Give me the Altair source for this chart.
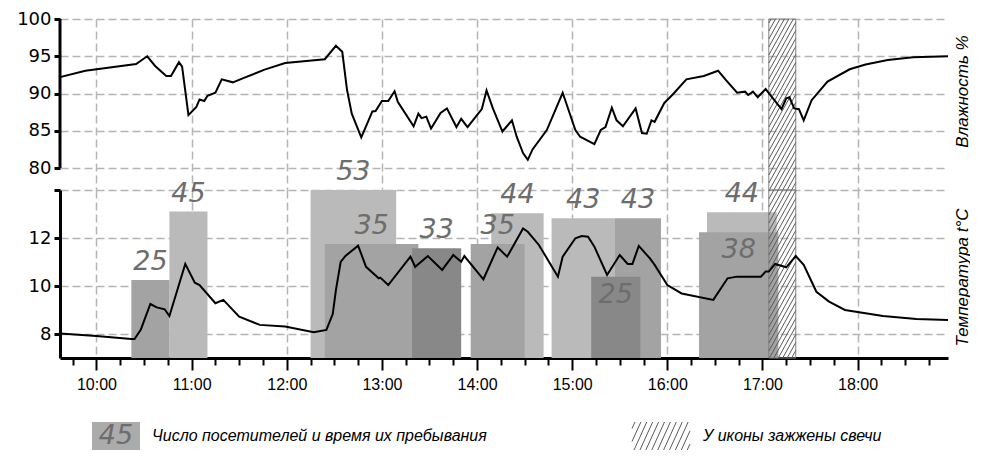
import altair as alt
import pandas as pd

# ---------------- data ----------------
hum_times = ["9:37","9:53","10:25","10:32","10:37","10:44","10:47","10:52","10:54","10:58",
             "11:03","11:05","11:08","11:10","11:15","11:19","11:26","11:33","11:46","11:59",
             "12:24","12:31","12:35","12:38","12:41","12:47","12:54","12:56","13:00","13:04",
             "13:08","13:10","13:20","13:23","13:25","13:28","13:31","13:37","13:41","13:47",
             "13:50","13:54","14:03","14:06","14:10","14:16","14:22","14:25","14:29","14:32",
             "14:35","14:44","14:54","15:02","15:05","15:14","15:18","15:21","15:25","15:28",
             "15:32","15:40","15:44","15:47","15:50","15:52","15:58","16:04","16:12","16:23",
             "16:32","16:37","16:44","16:49","16:51","16:54","16:57","17:02","17:06","17:12",
             "17:15","17:17","17:20","17:23","17:26","17:31","17:41","17:55","18:05","18:19",
             "18:35","18:57"]
hum_values = [92.2,93.06,93.96,95.0,93.7,92.35,92.35,94.2,93.6,87.1,
              88.2,89.2,89.0,89.7,90.1,91.9,91.5,92.1,93.2,94.1,
              94.6,96.4,95.6,90.5,87.3,84.1,87.6,87.65,89.0,89.0,
              90.3,88.9,85.6,87.3,86.7,86.9,85.3,87.4,88.0,85.5,
              86.6,85.5,87.9,90.4,88.0,84.9,86.4,84.2,82.0,81.1,
              82.5,85.1,90.1,85.1,84.2,83.2,85.1,85.5,88.1,86.4,
              85.6,88.0,84.7,84.6,86.4,86.2,88.7,90.0,91.9,92.35,
              93.06,91.8,90.1,90.25,89.8,90.25,89.5,90.6,89.5,87.9,
              89.35,89.5,88.0,87.9,86.4,89.1,91.6,93.25,93.9,94.5,
              94.85,95.0]

temp_times = ["9:37","10:00","10:22","10:24","10:28","10:34","10:38","10:43","10:46","10:51",
              "10:56","11:02","11:05","11:15","11:20","11:30","11:43","11:59","12:17","12:25",
              "12:29","12:31","12:34","12:37","12:45","12:50","12:58","12:59","13:04","13:18",
              "13:21","13:29","13:38","13:45","13:50","13:52","14:04","14:13","14:19","14:29",
              "14:32","14:39","14:51","14:54","15:02","15:06","15:10","15:14","15:22","15:30",
              "15:35","15:38","15:42","15:49","15:52","16:00","16:09","16:29","16:38","16:44",
              "16:59","17:02","17:04","17:08","17:15","17:21","17:26","17:34","17:42","17:52",
              "18:16","18:37","18:57"]
temp_values = [8.02,7.92,7.79,7.79,8.19,9.25,9.11,9.03,8.75,9.83,
               10.92,10.14,10.04,9.28,9.42,8.72,8.38,8.31,8.07,8.17,
               8.83,9.83,11.0,11.25,11.68,10.8,10.32,10.35,10.04,11.22,
               10.8,11.25,10.67,11.29,11.01,11.25,10.28,11.61,11.22,12.4,
               12.26,11.71,10.39,11.22,11.99,12.08,12.05,11.64,10.46,11.29,
               10.92,10.92,11.67,11.15,10.88,10.04,9.69,9.42,10.32,10.39,
               10.39,10.6,10.6,10.92,10.78,11.25,10.88,9.76,9.35,9.0,
               8.75,8.63,8.58]

visit_counts = [25, 45, 53, 35, 33, 35, 44, 43, 25, 43, 44, 38]
visit_start = ["10:22","10:46","12:15","12:24","13:19","13:56","14:09","14:47","15:12","15:27","16:25","16:20"]
visit_end   = ["10:46","11:10","13:09","13:23","13:50","14:30","14:42","15:27","15:43","15:56","17:09","17:10"]
visit_top   = [10.25, 13.1, 14.0, 11.75, 11.57, 11.75, 13.03, 12.82, 10.39, 12.82, 13.07, 12.24]
visit_shade = ["medium","light","light","medium","dark","medium","light","light","dark","medium","light","medium"]
label_inside = [False, False, False, False, False, False, False, False, True, False, False, True]

candle_start = "17:04"
candle_end = "17:21"

time_range = ["9:37", "18:57"]
hum_ticks = [80, 85, 90, 95, 100]
temp_ticks = [8, 10, 12, 14]
hour_ticks = [10, 11, 12, 13, 14, 15, 16, 17, 18]

legend_sample = "45"
legend_labels = ["Число посетителей и время их пребывания", "У иконы зажжены свечи"]
title_hum = "Влажность %"
title_temp = "Температура  t°C"

shade_names = ["light", "medium", "dark"]
shade_colors = ["#bababa", "#a3a3a3", "#888888"]


def hrs(t):
    a, b = t.split(":")
    return int(a) + int(b) / 60.0


# ---------------- layout constants ----------------
W = 888
HT = 171          # humidity panel incl. gap below 80
HB = 168          # temperature panel
LGAP = 64         # space between the x axis line and the legend row
LH = 28
hum_domain = [77.05, 100]
temp_domain = [7, 14]
x_lo, x_hi = hrs(time_range[0]), hrs(time_range[1])
pph = W / (x_hi - x_lo)

GRID = dict(grid=True, gridColor="#b5b5b5", gridDash=[8, 4], gridWidth=1.5)
LBL = dict(labelFont="DejaVu Sans", labelFontSize=18, labelColor="black")
TTL = dict(titleFont="Liberation Sans", titleFontStyle="italic", titleFontWeight="normal",
           titleFontSize=17, titleColor="black", titleAngle=270, titleAlign="center",
           titleBaseline="middle")

x_scale = alt.Scale(domain=[x_lo, x_hi], nice=False, zero=False)
x_axis_top = alt.Axis(values=hour_ticks, labels=False, ticks=False, domain=False, title=None, **GRID)
y_scale_top = alt.Scale(domain=hum_domain, nice=False, zero=False)
y_axis_top = alt.Axis(values=hum_ticks, domain=False, tickSize=6, tickWidth=3, tickColor="black",
                      labelPadding=3, title=title_hum, titleX=W + 14, titleY=72, **LBL, **GRID, **TTL)

quarter_ticks = [i / 4 for i in range(int(x_lo * 4) + 1, int(x_hi * 4) + 1)]
is_hour = "abs(datum.value - round(datum.value)) < 0.001"
x_axis_bot = alt.Axis(values=quarter_ticks, title=None, labelOverlap=False,
                      labelExpr=f"{is_hour} ? format(round(datum.value), 'd') + ':00' : ''",
                      tickSize={"condition": {"test": is_hour, "value": 12}, "value": 7},
                      tickWidth=2, tickColor="black", domainColor="black", domainWidth=3,
                      labelFont="Liberation Sans", labelFontSize=16, labelColor="black", labelPadding=6,
                      grid=True, gridColor="#b5b5b5", gridDash=[8, 4], gridWidth=1.5,
                      gridOpacity={"condition": {"test": is_hour, "value": 1}, "value": 0})
y_scale_bot = alt.Scale(domain=temp_domain, nice=False, zero=False)
y_axis_bot = alt.Axis(values=temp_ticks, labelExpr="datum.value == 14 ? '' : datum.label",
                      domainColor="black", domainWidth=3, tickSize=6, tickWidth=3, tickColor="black",
                      labelPadding=3, title=title_temp, titleX=W + 14, titleY=87, **LBL, **GRID, **TTL)

# ---------------- tables ----------------
df_hum = pd.DataFrame({"h": [hrs(t) for t in hum_times], "hum": hum_values})
df_temp = pd.DataFrame({"h": [hrs(t) for t in temp_times], "temp": temp_values})
df_vis = pd.DataFrame({
    "start": [hrs(t) for t in visit_start],
    "end": [hrs(t) for t in visit_end],
    "top": visit_top,
    "shade": visit_shade,
    "count": [str(c) for c in visit_counts],
    "inside": label_inside,
})
df_vis["mid"] = (df_vis["start"] + df_vis["end"]) / 2
df_vis["rank"] = df_vis["shade"].map({n: i for i, n in enumerate(shade_names)})
df_vis = df_vis.sort_values("rank", kind="stable")
df_candle = pd.DataFrame({"start": [hrs(candle_start)], "end": [hrs(candle_end)]})


def hatch(x0, x1, y0, y1, slope=1.8, step=8.0, anchor=0.0):
    """diagonal segments (pixel space, y down) clipped to a box, rising to the right"""
    w = x1 - x0
    out = []
    k = 0
    while True:
        c = anchor + step / 2 + k * step
        if c > y1 + slope * w:
            break
        xa = max(x0, x0 + (c - y1) / slope)
        xb = min(x1, x0 + (c - y0) / slope)
        if xb > xa:
            out.append((xa, c - slope * (xa - x0), xb, c - slope * (xb - x0)))
        k += 1
    return out


cx0 = (hrs(candle_start) - x_lo) * pph
cx1 = (hrs(candle_end) - x_lo) * pph
seg_top = hatch(cx0, cx1, 0, HT)
seg_bot = hatch(cx0, cx1, HT, HT + HB)
to_h = lambda px: x_lo + px / pph
to_hum = lambda py: hum_domain[1] - py * (hum_domain[1] - hum_domain[0]) / HT
to_t = lambda py: temp_domain[1] - (py - HT) * (temp_domain[1] - temp_domain[0]) / HB
df_ht = pd.DataFrame([{"xa": to_h(a), "ya": to_hum(b), "xb": to_h(c), "yb": to_hum(d)} for a, b, c, d in seg_top])
df_hb = pd.DataFrame([{"xa": to_h(a), "ya": to_t(b), "xb": to_h(c), "yb": to_t(d)} for a, b, c, d in seg_bot])

# ---------------- top panel (humidity) ----------------
Xt = lambda f: alt.X(f, scale=x_scale, axis=x_axis_top)
Yt = lambda f: alt.Y(f, scale=y_scale_top, axis=y_axis_top)

top_rect = alt.Chart(df_candle).mark_rect(fillOpacity=0, stroke="#808080", strokeWidth=1).encode(
    x=Xt("start:Q"), x2="end:Q", y=alt.value(0), y2=alt.value(HT))
top_hatch = alt.Chart(df_ht).mark_rule(color="#5a5a5a", strokeWidth=1).encode(
    x=Xt("xa:Q"), x2="xb:Q", y=Yt("ya:Q"), y2="yb:Q")
top_line = alt.Chart(df_hum).mark_line(color="black", strokeWidth=2).encode(x=Xt("h:Q"), y=Yt("hum:Q"))
top_dom = alt.Chart(pd.DataFrame({"lo": [min(hum_ticks)], "hi": [max(hum_ticks)]})).mark_rule(
    color="black", strokeWidth=3).encode(x=alt.value(0), y=Yt("lo:Q"), y2="hi:Q")
top = alt.layer(top_rect, top_hatch, top_line, top_dom).properties(width=W, height=HT)

# ---------------- bottom panel (temperature & visitors) ----------------
Xb = lambda f: alt.X(f, scale=x_scale, axis=x_axis_bot)
Yb = lambda f: alt.Y(f, scale=y_scale_bot, axis=y_axis_bot)

bars = alt.Chart(df_vis).mark_rect().encode(
    x=Xb("start:Q"), x2="end:Q", y=Yb("top:Q"), y2=alt.value(HB),
    color=alt.Color("shade:N", scale=alt.Scale(domain=shade_names, range=shade_colors), legend=None))
txt = dict(font="DejaVu Sans", fontStyle="italic", fontSize=27, color="#6d6d6d")
lab_out = alt.Chart(df_vis).transform_filter("!datum.inside").mark_text(
    baseline="bottom", dy=-4, **txt).encode(x=Xb("mid:Q"), y=Yb("top:Q"), text="count:N")
lab_in = alt.Chart(df_vis).transform_filter("datum.inside").mark_text(
    baseline="top", dy=5, **txt).encode(x=Xb("mid:Q"), y=Yb("top:Q"), text="count:N")
bot_rect = alt.Chart(df_candle).mark_rect(fillOpacity=0, stroke="#808080", strokeWidth=1).encode(
    x=Xb("start:Q"), x2="end:Q", y=alt.value(0), y2=alt.value(HB))
bot_hatch = alt.Chart(df_hb).mark_rule(color="#5a5a5a", strokeWidth=1).encode(
    x=Xb("xa:Q"), x2="xb:Q", y=Yb("ya:Q"), y2="yb:Q")
temp_line = alt.Chart(df_temp).mark_line(color="black", strokeWidth=2).encode(x=Xb("h:Q"), y=Yb("temp:Q"))
bottom = alt.layer(bars, lab_out, lab_in, bot_rect, bot_hatch, temp_line).properties(width=W, height=HB)

# ---------------- legend row ----------------
y0, y1 = LGAP, LGAP + LH
ym = (y0 + y1) / 2
lg_seg = hatch(572, 630, y0, y1, slope=2.2, step=13.0, anchor=y0)
df_lg_hatch = pd.DataFrame([{"xa": a, "ya": b, "xb": c, "yb": d} for a, b, c, d in lg_seg])
one = lambda v: pd.DataFrame({"t": [v]})
lg_box = alt.Chart(one(legend_sample)).mark_rect(color="#ababab").encode(
    x=alt.value(32), x2=alt.value(80), y=alt.value(y0), y2=alt.value(y1))
lg_num = alt.Chart(one(legend_sample)).mark_text(baseline="middle", **txt).encode(
    x=alt.value(56), y=alt.value(ym), text="t:N")
lg_t1 = alt.Chart(one(legend_labels[0])).mark_text(
    align="left", baseline="middle", font="Liberation Sans", fontStyle="italic", fontSize=16, color="black"
).encode(x=alt.value(92), y=alt.value(ym), text="t:N")
lg_h = alt.Chart(df_lg_hatch).mark_rule(color="#5a5a5a", strokeWidth=1).encode(
    x=alt.X("xa:Q", scale=None, axis=None), x2="xb:Q",
    y=alt.Y("ya:Q", scale=None, axis=None), y2="yb:Q")
lg_t2 = alt.Chart(one(legend_labels[1])).mark_text(
    align="left", baseline="middle", font="Liberation Sans", fontStyle="italic", fontSize=16, color="black"
).encode(x=alt.value(643), y=alt.value(ym), text="t:N")
legend_row = alt.layer(lg_box, lg_num, lg_t1, lg_h, lg_t2).properties(width=W, height=y1)

chart = alt.vconcat(top, bottom, legend_row, spacing=0, bounds="flush").properties(
    padding={"left": 8, "top": 2, "right": 0, "bottom": 0}
).configure_view(stroke=None)

chart.save("out.html", embed_options={"renderer": "svg", "actions": False})
